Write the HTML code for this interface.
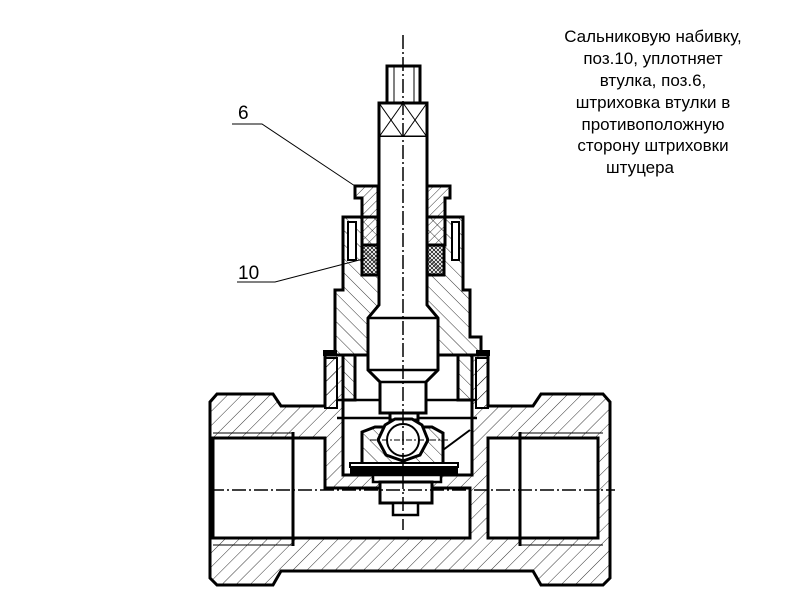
<!DOCTYPE html>
<html><head><meta charset="utf-8"><style>
html,body{margin:0;padding:0;background:#fff;}
svg{display:block;}
text{font-family:"Liberation Sans",sans-serif;fill:#000;}
</style></head><body>
<svg width="800" height="600" viewBox="0 0 800 600" xmlns="http://www.w3.org/2000/svg">
<defs>
<pattern id="hA" patternUnits="userSpaceOnUse" width="10" height="10" patternTransform="rotate(45)">
<line x1="0" y1="0" x2="0" y2="10" stroke="#000" stroke-width="0.8"/></pattern>
<pattern id="hB" patternUnits="userSpaceOnUse" width="10" height="10" patternTransform="rotate(-45)">
<line x1="0" y1="0" x2="0" y2="10" stroke="#000" stroke-width="0.8"/></pattern>
<pattern id="hS" patternUnits="userSpaceOnUse" width="6" height="6" patternTransform="rotate(45)">
<line x1="0" y1="0" x2="0" y2="6" stroke="#000" stroke-width="0.8"/></pattern>
<pattern id="hX" patternUnits="userSpaceOnUse" width="4" height="4">
<path d="M0 0L4 4M4 0L0 4" stroke="#000" stroke-width="0.7"/></pattern>
</defs>

<!-- text -->
<g font-size="17" text-anchor="middle">
<text x="653" y="42">Сальниковую набивку,</text>
<text x="653" y="64">поз.10,  уплотняет</text>
<text x="653" y="86">втулка, поз.6,</text>
<text x="653" y="108">штриховка втулки в</text>
<text x="653" y="130">противоположную</text>
<text x="653" y="151">сторону штриховки</text>
<text x="640" y="173">штуцера</text>
</g>
<text x="238" y="119" font-size="19">6</text>
<text x="238" y="279" font-size="19">10</text>
<path d="M232 124H262L355 186" stroke="#000" stroke-width="1" fill="none"/>
<path d="M237 282H275L367 258" stroke="#000" stroke-width="1" fill="none"/>

<!-- body -->
<path d="M217 394H273L281 406H325V355H488V406H533L541 394H603L610 402V578L603 585H541L533 571H281L273 585H217L210 578V402Z" fill="url(#hA)" stroke="#000" stroke-width="3"/>
<!-- cavities -->
<path d="M213 438H325V488H470V538H213Z" fill="#fff" stroke="#000" stroke-width="3"/>
<path d="M488 438H598V538H488Z" fill="#fff" stroke="#000" stroke-width="3"/>
<path d="M343 355H472V475H343Z" fill="#fff" stroke="#000" stroke-width="3"/>
<line x1="293" y1="432" x2="293" y2="546" stroke="#000" stroke-width="3"/>
<line x1="520" y1="432" x2="520" y2="546" stroke="#000" stroke-width="3"/>
<line x1="213" y1="433" x2="293" y2="433" stroke="#000" stroke-width="1"/>
<line x1="213" y1="545" x2="293" y2="545" stroke="#000" stroke-width="1"/>
<line x1="520" y1="433" x2="603" y2="433" stroke="#000" stroke-width="1"/>
<line x1="520" y1="545" x2="603" y2="545" stroke="#000" stroke-width="1"/>

<!-- bonnet -->
<path d="M343 217H463V290H470V337H481V355H472V400H458V355H438V330H368V355H355V400H343V355H335V337H335V290H343Z" fill="url(#hB)" stroke="#000" stroke-width="3"/>
<path d="M348 222H356V260H348Z" fill="#fff" stroke="#000" stroke-width="2"/>
<path d="M452 222H459V260H452Z" fill="#fff" stroke="#000" stroke-width="2"/>
<rect x="323" y="350" width="14" height="6" fill="#000"/>
<rect x="476" y="350" width="14" height="6" fill="#000"/>
<rect x="325" y="358" width="12" height="50" fill="url(#hA)" stroke="#000" stroke-width="2"/>
<rect x="476" y="358" width="12" height="50" fill="url(#hA)" stroke="#000" stroke-width="2"/>
<path d="M337 400H477M337 418H477" stroke="#000" stroke-width="2.5"/>

<!-- gland sleeve pos 6 -->
<path d="M355 186H378V245H362V198H355Z" fill="url(#hS)" stroke="#000" stroke-width="3"/>
<path d="M427 186H450V198H445V245H427Z" fill="url(#hS)" stroke="#000" stroke-width="3"/>
<rect x="362" y="245" width="16" height="30" fill="url(#hX)" stroke="#000" stroke-width="3"/>
<rect x="427" y="245" width="17" height="30" fill="url(#hX)" stroke="#000" stroke-width="3"/>

<!-- stem -->
<rect x="387" y="66" width="33" height="37" fill="#fff" stroke="#000" stroke-width="3"/>
<path d="M394 66V103M414 66V103" stroke="#000" stroke-width="1"/>
<rect x="379" y="103" width="48" height="34" fill="#fff" stroke="#000" stroke-width="3"/>
<path d="M379 103L403 137M403 103L379 137M403 103L427 137M427 103L403 137" stroke="#000" stroke-width="1"/>
<path d="M379 137V305L368 318V370L380 382V413H426V382L438 370V318L427 305V137" fill="#fff" stroke="#000" stroke-width="3"/>
<path d="M368 318H438M368 370H438M380 382H426" stroke="#000" stroke-width="2.5"/>
<!-- seat and ball -->
<path d="M362 432L375 427H432L443 433V465H362Z" fill="url(#hB)" stroke="#000" stroke-width="3"/>
<path d="M390 413H418V420H390Z" fill="#fff" stroke="#000" stroke-width="3"/>
<path d="M385 425L395 419H412L422 425L428 440L420 455L403 461L386 455L378 440Z" fill="#fff" stroke="#000" stroke-width="3"/>
<circle cx="403" cy="440" r="16" fill="#fff" stroke="#000" stroke-width="2"/>
<path d="M443 450L470 430" stroke="#000" stroke-width="2"/>
<rect x="350" y="463" width="108" height="4" fill="#fff" stroke="#000" stroke-width="2"/>
<rect x="350" y="468" width="108" height="6" fill="#000"/>
<rect x="373" y="475" width="68" height="7" fill="#fff" stroke="#000" stroke-width="2.5"/>
<rect x="380" y="482" width="52" height="21" fill="#fff" stroke="#000" stroke-width="3"/>
<rect x="393" y="503" width="25" height="12" fill="#fff" stroke="#000" stroke-width="2.5"/>

<!-- centerlines -->
<line x1="403" y1="35" x2="403" y2="530" stroke="#000" stroke-width="1.5" stroke-dasharray="14,3,2,3"/>
<line x1="210" y1="490" x2="615" y2="490" stroke="#000" stroke-width="1.5" stroke-dasharray="14,3,2,3"/>
<line x1="370" y1="440" x2="450" y2="440" stroke="#000" stroke-width="1" stroke-dasharray="6,2,2,2"/>
</svg>
</body></html>
